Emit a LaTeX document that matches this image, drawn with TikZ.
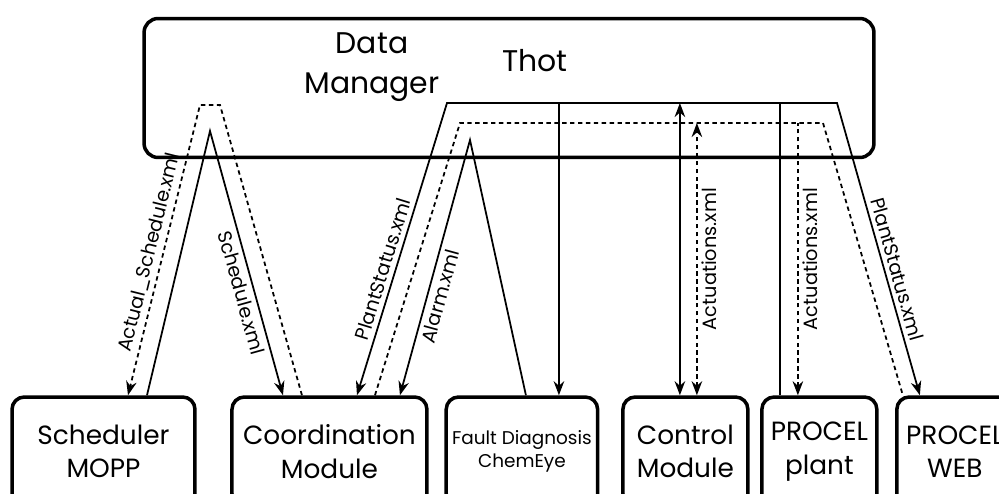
\documentclass[tikz,border=0pt]{standalone}
\usepackage{fontspec}
\setmainfont{Poppins}
\usetikzlibrary{arrows.meta}
\tikzset{
	>={Stealth[length=8pt,width=6pt]}, % puntas de flecha rellenas
	modulo/.style={draw, line width=2pt, rounded corners=7pt, minimum height=2.18cm, align=center, font=\fontsize{15}{19}\selectfont}, % cajas de los modulos
	enlace/.style={line width=1pt}, % conexiones continuas
	datos/.style={enlace, dash pattern=on 2.5pt off 2pt}, % conexiones punteadas
	archivo/.style={font=\fontsize{11}{13}\selectfont, inner sep=2.5pt} % nombres de los xml
}

\begin{document}
\begin{tikzpicture}[x=0.02cm, y=-0.02cm]
				\clip (0,0) rectangle (999,493);
				\node[draw, line width=2pt, rounded corners=8pt, minimum width=14.6cm, minimum height=2.78cm] (dm) at (509,88) {};
				\node[font=\fontsize{17}{23}\selectfont, align=center] (dmtxt) at (372,67) {Data\\Manager};
				\node[font=\fontsize{17}{20}\selectfont] (thot) at (535,61) {Thot};
				\node[modulo, minimum width=3.66cm] (sched) at (103.5,451.5) {Scheduler\\MOPP};
				\node[modulo, minimum width=3.9cm, node distance=4.52cm, right of=sched] (coord) {Coordination\\Module};
				\node[modulo, minimum width=3cm, node distance=3.85cm, right of=coord, font=\fontsize{10.5}{13}\selectfont] (fault) {Fault Diagnosis\\ChemEye};
				\node[modulo, minimum width=2.5cm, node distance=3.27cm, right of=fault] (ctrl) {Control\\Module};
				\node[modulo, minimum width=2.3cm, node distance=2.68cm, right of=ctrl] (plant) {PROCEL\\plant};
				\node[modulo, minimum width=2.32cm, node distance=2.71cm, right of=plant] (web) {PROCEL\\WEB};
				\coordinate (esqIzq) at (447,103);
				\coordinate (esqDer) at (837,103);
				\coordinate (dashIzq) at (460,123);
				\coordinate (dashDer) at (823,123);
				\coordinate (faultIn) at ([xshift=0.74cm]fault.north);
				\coordinate (ctrlIn) at ([xshift=-0.11cm]ctrl.north);
				\coordinate (ctrlAct) at ([xshift=0.23cm]ctrl.north);
				\coordinate (plantOut) at ([xshift=-0.79cm]plant.north);
				\coordinate (plantAct) at ([xshift=-0.43cm]plant.north);
				% planificacion
				\draw[datos, ->] ([xshift=-0.55cm]coord.north) -- (220,105) -- (200,105) -- node[archivo, sloped, above, pos=0.52] {Actual\_Schedule.xml} ([xshift=0.49cm]sched.north);
				\draw[enlace, ->] ([xshift=0.87cm]sched.north) -- (210,131) -- node[archivo, sloped, below, pos=0.6] {Schedule.xml} ([xshift=-0.93cm]coord.north);
				% estado de la planta
				\draw[enlace, <->] ([xshift=0.55cm]coord.north) -- node[archivo, sloped, above, pos=0.42] {PlantStatus.xml} (esqIzq) -- (esqDer) -- node[archivo, sloped, above, pos=0.58] {PlantStatus.xml} ([xshift=-0.7cm]web.north);
				\draw[enlace] (plantOut) -- (plantOut |- esqDer);
				\draw[enlace, ->] (faultIn |- esqIzq) -- (faultIn);
				\draw[enlace, <->] (ctrlIn |- esqIzq) -- (ctrlIn);
				% actuaciones
				\draw[datos] ([xshift=0.91cm]coord.north) -- (dashIzq) -- (dashDer) -- ([xshift=-1.04cm]web.north);
				\draw[datos, <->] (ctrlAct) -- node[archivo, sloped, below] {Actuations.xml} (ctrlAct |- dashIzq);
				\draw[datos, <-] (plantAct) -- node[archivo, sloped, below] {Actuations.xml} (plantAct |- dashIzq);
				% alarmas
				\draw[enlace, ->] ([xshift=0.08cm]fault.north) -- (470,140) -- node[archivo, sloped, below, pos=0.6] {Alarm.xml} ([xshift=1.41cm]coord.north);
			\end{tikzpicture}
\end{document}
